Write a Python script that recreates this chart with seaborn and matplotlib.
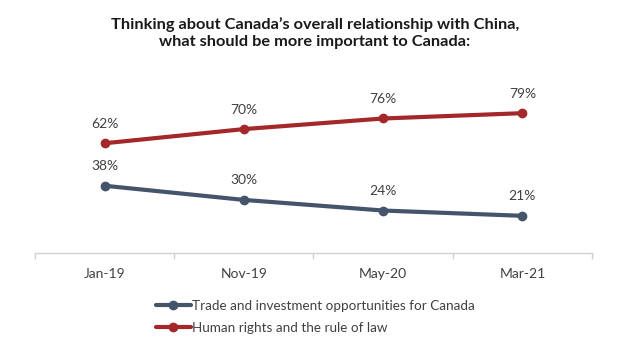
import pandas as pd
import matplotlib.pyplot as plt
import seaborn as sns
from matplotlib.lines import Line2D

# chart data
periods = ['Jan-19', 'Nov-19', 'May-20', 'Mar-21']
trade_values = [38, 30, 24, 21]
rights_values = [62, 70, 76, 79]
series_names = ['Trade and investment opportunities for Canada',
                'Human rights and the rule of law']
series_colors = ['#44546A', '#A4282A']

title = 'Thinking about Canada\u2019s overall relationship with China,\nwhat should be more important to Canada:'

# long-form table for seaborn
df = pd.DataFrame({
    'period': periods * 2,
    'value': trade_values + rights_values,
    'series': [series_names[0]] * len(periods) + [series_names[1]] * len(periods),
})

sns.set_style('white')
plt.rcParams['font.family'] = ['Lato', 'DejaVu Sans']
text_color = '#404040'

fig = plt.figure(figsize=(6.35, 3.57), dpi=100)
ax = fig.add_axes([0.0551, 0.2913, 0.8772, 0.4958])

sns.lineplot(data=df, x='period', y='value', hue='series', palette=series_colors,
             marker='o', markersize=7, markeredgewidth=0, linewidth=3,
             ax=ax, legend=False)

# data labels above each point
for vals in [trade_values, rights_values]:
    for i, v in enumerate(vals):
        ax.annotate(f'{v}%', (i, v), xytext=(0, 14), textcoords='offset points',
                    ha='center', va='center', fontsize=10, color=text_color)

ax.set_xlim(-0.5, len(periods) - 0.5)
ax.set_ylim(0, 100)
ax.set_xlabel('')
ax.set_ylabel('')
ax.set_yticks([])
ax.set_xticks(range(len(periods)))
ax.set_xticklabels(periods, fontsize=10, color=text_color)
ax.set_xticks([i - 0.5 for i in range(len(periods) + 1)], minor=True)
ax.tick_params(axis='x', which='major', length=0, pad=11)
ax.tick_params(axis='x', which='minor', bottom=True, length=4, color='#D0D0D0',
               width=1, direction='out')
for side in ['top', 'left', 'right']:
    ax.spines[side].set_visible(False)
ax.spines['bottom'].set_color('#D0D0D0')
ax.spines['bottom'].set_linewidth(1)

fig.suptitle(title, x=0.496, y=0.953, fontsize=11.8, fontweight='bold', color='#1a1a1a',
             linespacing=1.3)

# legend under the axis
handles = [Line2D([0], [0], color=c, linewidth=3, marker='o', markersize=7, markeredgewidth=0)
           for c in series_colors]
fig.legend(handles, series_names, loc='upper left', bbox_to_anchor=(0.237, 0.176),
           frameon=False, fontsize=9.7, handlelength=2.6, handletextpad=0.1,
           labelspacing=0.75, labelcolor=text_color, borderaxespad=0)

plt.savefig('out.png', dpi=100)
